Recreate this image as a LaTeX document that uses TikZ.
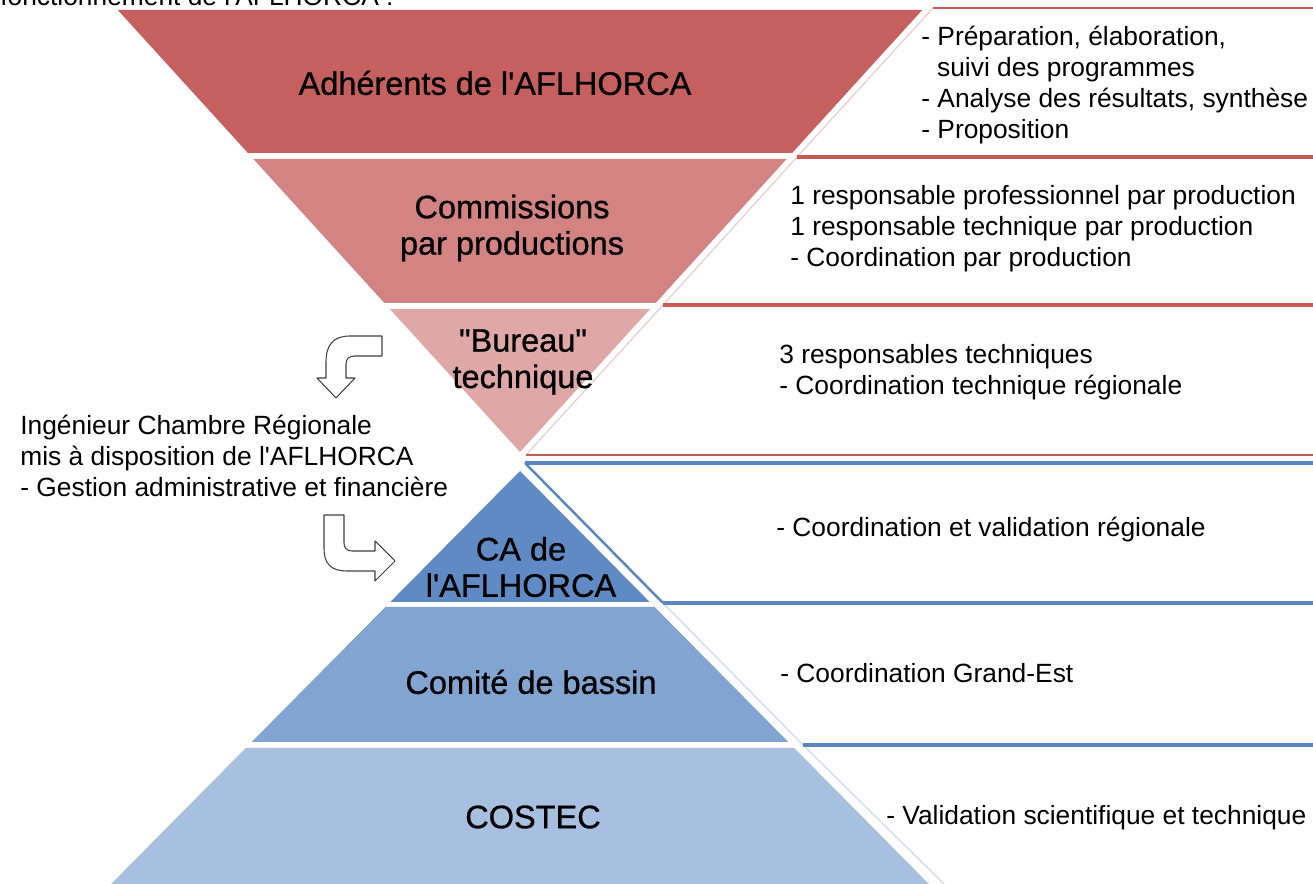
\documentclass[tikz,border=0pt]{standalone}
\usepackage{fontspec}
\setmainfont{Liberation Sans}[Ligatures=TeXOff]
\newfontfamily\lblfont{Liberation Sans}[Ligatures=TeXOff,FakeBold=0.8]
\usetikzlibrary{positioning}
\definecolor{redA}{HTML}{C6605E}
\definecolor{redB}{HTML}{D38381}
\definecolor{redC}{HTML}{DFA8A7}
\definecolor{blueA}{HTML}{5F8AC4}
\definecolor{blueB}{HTML}{81A4D0}
\definecolor{blueC}{HTML}{A8C0DF}
\definecolor{redline}{HTML}{C65A57}
\definecolor{blueline}{HTML}{5A86C2}

\begin{document}
\begin{tikzpicture}[x=0.02cm,y=-0.02cm,
    lbl/.style={font=\lblfont\fontsize{18.5}{20.7}\selectfont,align=center,inner sep=0pt},
    txt/.style={font=\fontsize{15}{17.6}\selectfont,align=left,anchor=west,inner sep=0pt},
    thinline/.style={line width=0.6pt},
    barline/.style={line width=2.2pt},
    blockarrow/.style={draw=black!75,line width=0.6pt,fill=white,line join=round}]
  \clip (0,0) rectangle (1313,884);
  \fill[white] (0,0) rectangle (1313,884);

  % title line, cut by the page edge
  \node[txt,anchor=base west] (title) at (0,6) {fonctionnement de l'AFLHORCA :};

  % boxes on the right
  \draw[thinline,redline] (933,8) -- (1313,8);
  \draw[thinline,redA!35] (933,8) -- (797,157) -- (663,305) -- (526,455);
  \draw[barline,redline] (797,157) -- (1313,157);
  \draw[barline,redline] (663,305) -- (1313,305);
  \draw[thinline,redline] (526,455) -- (1313,455);
  \draw[barline,blueline] (525,463) -- (1313,463);
  \draw[line width=1.4pt,blueline] (525,463) -- (663,603);
  \draw[thinline,blueline!35] (663,603) -- (803,745) -- (944,884);
  \draw[barline,blueline] (663,603) -- (1313,603);
  \draw[barline,blueline] (803,745) -- (1313,745);

  % upper pyramid (upside down)
  \foreach \ya/\yb/\col in {10/153/redA,159/303/redB,309/452/redC}
    \fill[\col] ({520-0.91*(452-\ya)},\ya) -- ({520+0.91*(452-\ya)},\ya)
      -- ({520+0.91*(452-\yb)},\yb) -- ({520-0.91*(452-\yb)},\yb) -- cycle;
  % lower pyramid
  \foreach \ya/\yb/\col in {471/602/blueA,607/742/blueB,748/884/blueC}
    \fill[\col] ({520-0.99*(\ya-471)},\ya) -- ({520+0.99*(\ya-471)},\ya)
      -- ({520+0.99*(\yb-471)},\yb) -- ({520-0.99*(\yb-471)},\yb) -- cycle;

  % levels
  \node[lbl] (adh)  at (495,83)  {Adhérents de l'AFLHORCA};
  \node[lbl] (com)  at (512,228) {Commissions\\par productions};
  \node[lbl] (bur)  at (523,362) {"Bureau"\\technique};
  \node[lbl] (ca)   at (521,567) {CA de\\l'AFLHORCA};
  \node[lbl] (bas)  at (531,682) {Comité de bassin};
  \node[lbl] (cost) at (533,817) {COSTEC};

  % roles
  \node[txt] (adhtxt) at (921,85) {- Préparation, élaboration,\\\hspace*{9pt}suivi des programmes\\- Analyse des résultats, synthèse\\- Proposition};
  \node[txt] (comtxt) at (790,229) {1 responsable professionnel par production\\1 responsable technique par production\\- Coordination par production};
  \node[txt] (burtxt) at (779,372) {3 responsables techniques\\- Coordination technique régionale};
  \node[txt] (catxt) at (776,530) {- Coordination et validation régionale};
  \node[txt] (bastxt) at (780,673) {- Coordination Grand-Est};
  \node[txt] (costtxt) at (886,818) {- Validation scientifique et technique};

  % engineer
  \node[txt] (ing) at (20,456) {Ingénieur Chambre Régionale\\mis à disposition de l'AFLHORCA\\- Gestion administrative et financière};

  % bent arrows
  \draw[blockarrow] (382,336) -- (350,336) .. controls (333,336) and (326,345) .. (326,362)
    -- (326,378) -- (317,378) -- (336,398) -- (355,378) -- (346,378) -- (346,364)
    .. controls (346,359) and (349,356) .. (355,356) -- (382,356) -- cycle;
  \draw[blockarrow] (324,515) -- (324,548) .. controls (324,564) and (331,571) .. (347,571)
    -- (375,571) -- (375,581) -- (395,561) -- (375,541) -- (375,551) -- (352,551)
    .. controls (347,551) and (344,548) .. (344,543) -- (344,515) -- cycle;
\end{tikzpicture}
\end{document}
